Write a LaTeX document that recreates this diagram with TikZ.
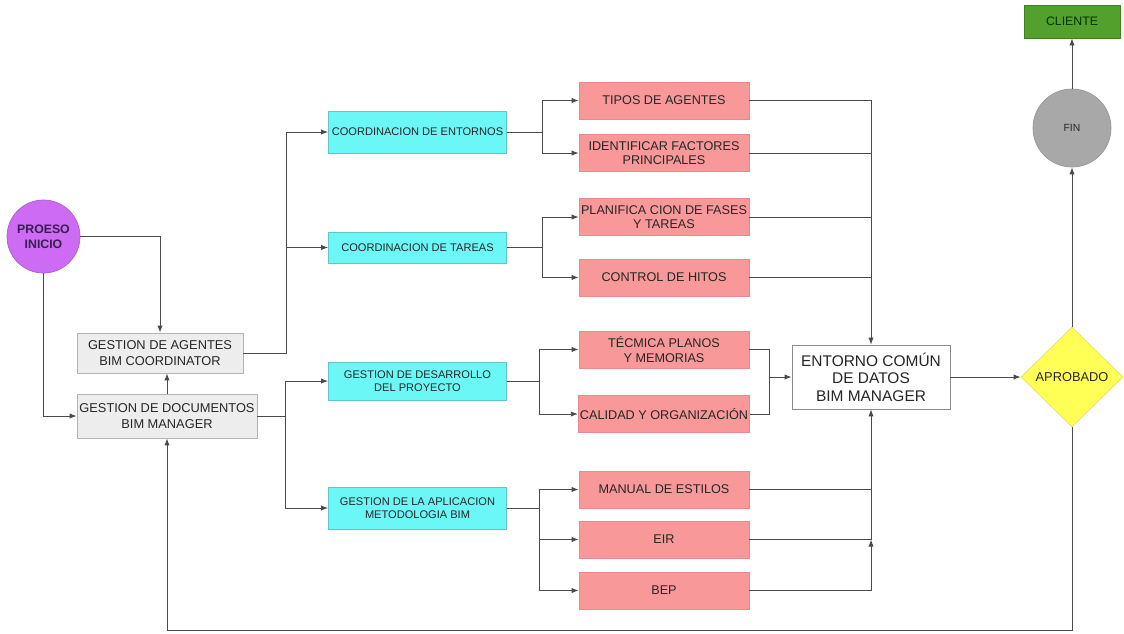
\documentclass[tikz,border=0pt]{standalone}
\usepackage{xcolor}
\usepackage{fontspec}
\setmainfont{Liberation Sans}
\usepackage{tikz}
\usetikzlibrary{arrows.meta,shapes.geometric,positioning}

\definecolor{startviolet}{HTML}{CD6BF4}
\definecolor{starttext}{HTML}{35204F}
\definecolor{greybox}{HTML}{EDEDED}
\definecolor{greyedge}{HTML}{B4B4B4}
\definecolor{cyanbox}{HTML}{6CF7F7}
\definecolor{cyanedge}{HTML}{62C4C8}
\definecolor{pinkbox}{HTML}{F99898}
\definecolor{pinkedge}{HTML}{E68A8A}
\definecolor{okyellow}{HTML}{FFFF55}
\definecolor{okedge}{HTML}{E4DE76}
\definecolor{endgrey}{HTML}{A8A8A8}
\definecolor{clientgreen}{HTML}{54A02C}
\definecolor{clientedge}{HTML}{3F8022}
\definecolor{linegrey}{HTML}{4A4A4A}

\begin{document}
\begin{tikzpicture}
    [
    node distance = 1cm and 1cm, on grid,
    every node/.style = {text=black!85, align=center},
    startnode/.style = {circle, fill=startviolet, draw=startviolet!85!black, minimum size=1.46cm, inner sep=0pt, font=\bfseries\fontsize{7}{8.4}\selectfont, text=starttext},
    graybox/.style = {draw=greyedge, fill=greybox, rectangle, inner sep=1pt, font=\fontsize{7.3}{8.7}\selectfont},
    cyanstep/.style = {draw=cyanedge, fill=cyanbox, rectangle, minimum width=3.56cm, minimum height=0.8cm, inner sep=1pt, font=\fontsize{6.3}{7.3}\selectfont},
    pinkstep/.style = {draw=pinkedge, fill=pinkbox, rectangle, minimum width=3.4cm, minimum height=0.74cm, inner sep=1pt, font=\fontsize{7.2}{8.2}\selectfont},
    databox/.style = {draw=black!45, fill=white, rectangle, minimum width=3.16cm, minimum height=1.28cm, inner sep=1pt, font=\fontsize{8.8}{10}\selectfont},
    decision/.style = {diamond, draw=okedge, fill=okyellow, minimum width=2.04cm, minimum height=2cm, inner sep=0pt, font=\fontsize{7.3}{8.5}\selectfont},
    endnode/.style = {circle, fill=endgrey, draw=endgrey!90!black, minimum size=1.56cm, inner sep=0pt, font=\fontsize{5.9}{7}\selectfont},
    clientbox/.style = {draw=clientedge, fill=clientgreen, rectangle, minimum width=1.92cm, minimum height=0.66cm, inner sep=1pt, font=\fontsize{7}{8}\selectfont, text=black!80!green},
    line/.style = {draw=linegrey, line width=0.5pt},
    arrow/.style = {line, -{Latex[length=4pt,width=3pt]}}
    ]

    \useasboundingbox (0,0) rectangle (22.48,-12.66);

% Nodes
    \node[startnode] (inicio) at (0.87,-4.73) {PROESO\\INICIO};
    \node[graybox, minimum width=3.32cm, minimum height=0.8cm] (agentes) at (3.2,-7.06) {GESTION DE AGENTES\\BIM COORDINATOR};
    \node[graybox, minimum width=3.6cm, minimum height=0.88cm] (docs) at (3.34,-8.32) {GESTION DE DOCUMENTOS\\BIM MANAGER};

    \node[cyanstep, minimum height=0.84cm] (entornos) at (8.35,-2.64) {COORDINACION DE ENTORNOS};
    \node[cyanstep, minimum height=0.62cm, below=2.31cm of entornos] (tareas) {COORDINACION DE TAREAS};
    \node[cyanstep, minimum height=0.76cm, below=2.67cm of tareas] (desarrollo) {GESTION DE DESARROLLO\\DEL PROYECTO};
    \node[cyanstep, minimum height=0.84cm, below=2.54cm of desarrollo] (aplicacion) {GESTION DE LA APLICACION\\METODOLOGIA BIM};

    \node[pinkstep] (tipos) at (13.28,-2.01) {TIPOS DE AGENTES};
    \node[pinkstep, below=1.05cm of tipos] (factores) {IDENTIFICAR FACTORES\\PRINCIPALES};
    \node[pinkstep, below=1.28cm of factores] (fases) {PLANIFICA CION DE FASES\\Y TAREAS};
    \node[pinkstep, below=1.21cm of fases] (hitos) {CONTROL DE HITOS};
    \node[pinkstep, below=1.44cm of hitos] (planos) {TÉCMICA PLANOS\\Y MEMORIAS};
    \node[pinkstep, below=1.29cm of planos] (calidad) {CALIDAD Y ORGANIZACIÓN};
    \node[pinkstep, below=1.51cm of calidad] (estilos) {MANUAL DE ESTILOS};
    \node[pinkstep, below=1.0cm of estilos] (eir) {EIR};
    \node[pinkstep, below=1.02cm of eir] (bep) {BEP};

    \node[databox] (datos) at (17.42,-7.54) {ENTORNO COMÚN\\DE DATOS\\BIM MANAGER};
    \node[decision] (aprobado) at (21.44,-7.54) {APROBADO};
    \node[endnode, above=4.98cm of aprobado] (fin) {FIN};
    \node[clientbox, above=2.13cm of fin] (cliente) {CLIENTE};

% Junctions
    \coordinate (busA) at (5.72,0);
    \coordinate (busB) at (5.70,0);
    \coordinate (busC) at (10.84,0);
    \coordinate (busD) at (10.79,0);
    \coordinate (busE) at (15.38,0);
    \coordinate (loop) at (0,-12.6);

% Arrows
    \draw[arrow] (inicio.east) -| (agentes.north);
    \draw[arrow] (inicio.south) |- (docs.west);
    \draw[arrow] (docs.north) -- (docs.north |- agentes.south);

    \draw[arrow] (agentes.east) -- (agentes.east -| busA) |- (entornos.west);
    \draw[arrow] (agentes.east -| busA) |- (tareas.west);
    \draw[arrow] (docs.east) -- (docs.east -| busB) |- (desarrollo.west);
    \draw[arrow] (docs.east -| busB) |- (aplicacion.west);

    \draw[arrow] (entornos.east) -- (entornos.east -| busC) |- (tipos.west);
    \draw[arrow] (entornos.east -| busC) |- (factores.west);
    \draw[arrow] (tareas.east) -- (tareas.east -| busC) |- (fases.west);
    \draw[arrow] (tareas.east -| busC) |- (hitos.west);
    \draw[arrow] (desarrollo.east) -- (desarrollo.east -| busD) |- (planos.west);
    \draw[arrow] (desarrollo.east -| busD) |- (calidad.west);
    \draw[arrow] (aplicacion.east) -- (aplicacion.east -| busD) |- (estilos.west);
    \draw[arrow] (aplicacion.east -| busD) |- (eir.west);
    \draw[arrow] (aplicacion.east -| busD) |- (bep.west);

    \draw[arrow] (tipos.east) -| (datos.north);
    \draw[line] (factores.east) -- (factores.east -| datos.north);
    \draw[line] (fases.east) -- (fases.east -| datos.north);
    \draw[line] (hitos.east) -- (hitos.east -| datos.north);

    \draw[line] (planos.east) -| (busE |- calidad.east) -- (calidad.east);
    \draw[arrow] (busE |- datos.west) -- (datos.west);

    \draw[line] (estilos.east) -- (estilos.east -| datos.south);
    \draw[arrow] (eir.east) -| (datos.south);
    \draw[arrow] (bep.east) -| (eir.east -| datos.south);

    \draw[arrow] (datos.east) -- (aprobado.west);
    \draw[arrow] (aprobado.north) -- (fin.south);
    \draw[arrow] (fin.north) -- (cliente.south);
    \draw[arrow] (aprobado.south) -- (aprobado.south |- loop) -| (docs.south);

\end{tikzpicture}
\end{document}
